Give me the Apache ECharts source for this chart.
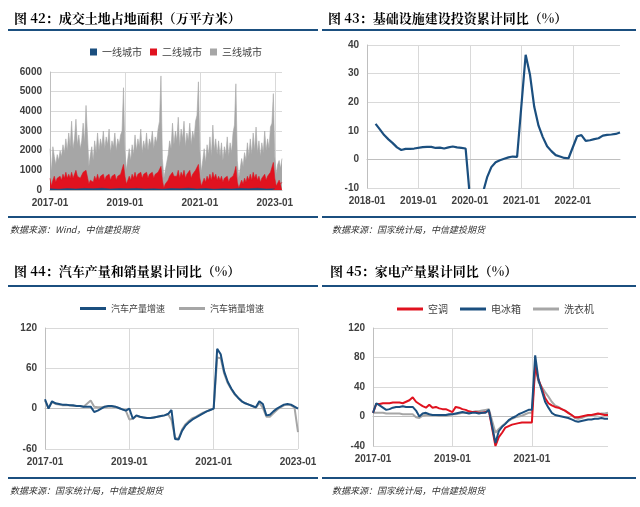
<!DOCTYPE html>
<html>
<head>
<meta charset="utf-8">
<script src="https://cdn.jsdelivr.net/npm/echarts@6/dist/echarts.min.js"></script>
<style>html,body{margin:0;background:#fff}#container{width:640px;height:507px}</style>
</head>
<body>
<div id="container"></div>
<script>
// ---- 图42 成交土地占地面积 (biweekly, 2017-01 .. 2023-03)
var land3 = [
  2100,900,2200,1700,1300,1800,1500,2000,1700,2300,1900,2600,2000,2900,2200,3500,2100,2600,3600,2300,2800,2100,2500,3400,2400,4300,
  2800,1200,1800,2200,1500,2500,1900,2900,2000,2600,2200,3000,2100,2700,2300,3100,1900,2500,2200,2900,2000,2600,2300,2800,3000,5200,
  2000,1000,1600,2100,1500,2300,1800,2800,2000,2600,2200,3100,1900,2500,2100,2900,2000,2600,2300,3000,2100,2700,2400,3100,3500,5800,
  1600,600,1000,1400,1800,2500,2100,3400,2300,3000,2500,3700,2200,3100,2600,3500,2200,2900,2500,3400,2300,3000,2600,3500,3800,5500,
  2000,900,1500,2100,1400,2300,1800,2700,1700,3300,2000,2600,1800,2500,1700,2400,1500,2200,1800,2700,1700,2400,1900,2900,3300,5400,
  1500,600,1100,1600,1200,1900,1500,2400,1700,2600,1800,2900,2000,3200,1900,2500,1700,2400,1900,3000,2000,2600,2100,3200,3400,4900,
  1700,800,1300,1500,1100,1600
];
var land2 = [
  600,200,500,700,400,600,500,700,500,800,600,900,600,800,600,900,600,800,1000,700,800,600,700,900,800,1000,
  900,300,500,600,400,700,500,800,500,700,600,800,500,700,600,800,500,700,600,800,500,700,600,800,900,1300,
  700,300,500,700,500,800,600,900,600,800,700,900,600,800,700,900,600,800,700,900,600,800,700,900,1000,1200,
  500,100,300,400,500,700,600,900,700,800,700,1000,600,900,700,1000,600,800,700,1000,600,800,700,1000,1100,1300,
  600,200,400,600,400,700,500,800,500,900,600,800,500,700,500,700,400,600,500,700,400,600,500,700,900,1200,
  400,100,300,500,300,600,400,700,500,800,500,900,600,800,500,700,400,600,500,800,500,700,600,900,1000,1400,
  600,200,300,500,300,400
];
// 一线城市, one value every 6 biweeks
var land1 = [60,40,70,50,80,60,90,50,70,60,80,50,60,40,70,60,90,50,70,40,60,50,80,60,90,50,60,40];

// ---- 图43 基础设施建设投资累计同比 (2018-01 .. 2022-12)
var infra = [
  null,null,12.4,10.5,8.5,7.0,5.7,4.2,3.3,3.7,3.7,3.8,
  null,4.3,4.4,4.4,4.0,4.1,3.8,4.2,4.5,4.2,4.0,3.8,
  null,-30.3,-19.7,-11.8,-6.3,-2.7,-1.0,-0.3,0.2,0.7,1.0,0.9,
  null,36.6,29.7,18.4,11.8,7.8,4.6,2.9,1.5,1.0,0.5,0.4,
  null,8.1,8.5,6.5,6.7,7.1,7.4,8.3,8.6,8.7,8.9,9.4
];

// ---- 图44 汽车产量和销量累计同比 (2017-01 .. 2023-01)
var carProd = [
  14,0,11,8,7,6,6,5,5,4,4,3,
  null,3,-5,-3,0,3,4,4,3,1,-1,-3,
  0,-15,-10,-12,-13,-14,-14,-13,-12,-11,-10,-8,
  -2,-45,-46,-33,-25,-20,-16,-13,-10,-7,-4,-2,
  0,89,81,55,40,30,22,16,11,8,6,4,
  2,11,7,-10,-9,-4,0,3,6,7,6,3,
  0
];
var carSales = [
  12,1,10,7,6,5,5,5,4,4,4,3,
  null,12,3,2,2,3,3,3,3,1,-1,-3,
  -16,-15,-11,-12,-13,-14,-14,-13,-12,-11,-10,-8,
  -17,-43,-45,-31,-23,-18,-14,-12,-9,-6,-4,-2,
  0,76,75,52,38,29,21,16,11,8,6,4,
  1,9,1,-12,-12,-7,-2,2,5,6,5,2,
  -35
];

// ---- 图45 家电产量累计同比 (2017-01 .. 2022-12)
var aircon = [
  5,17,17,18,18,18,19,19,19,18,20,22,
  26,20,17,14,12,16,12,13,11,10,10,8,
  6,13,12,10,9,7,6,6,5,5,6,8,
  null,-40,-28,-22,-15,-13,-11,-10,-9,-8,-8,-8,
  -8,68,50,38,25,18,15,13,12,10,8,5,
  2,-1,-1,0,1,2,2,3,4,3,2,2
];
var fridge = [
  5,18,15,12,9,10,12,13,13,14,13,13,
  13,8,0,4,5,3,2,2,2,2,2,3,
  3,4,5,6,5,4,5,5,4,5,5,9,
  null,-36,-20,-14,-10,-5,-2,0,3,5,7,9,
  9,83,50,35,20,12,5,2,1,0,-1,-2,
  -4,-6,-7,-6,-5,-4,-4,-3,-3,-2,-3,-3
];
var washer = [
  5,5,5,5,4,4,4,4,4,3,3,3,
  3,-1,-2,1,2,2,2,2,1,1,1,2,
  3,3,4,5,5,6,6,7,7,8,9,10,
  null,-22,-17,-13,-9,-6,-3,-1,0,1,3,5,
  5,67,47,40,33,27,20,15,13,10,8,5,
  2,-2,-3,-2,0,1,2,2,3,4,4,5
];

function months(startYear, n) {
  var out = [];
  for (var i = 0; i < n; i++) {
    var y = startYear + Math.floor(i / 12), m = i % 12 + 1;
    out.push(y + '-' + (m < 10 ? '0' : '') + m);
  }
  return out;
}
var landCats = [];
for (var i = 0; i < land3.length; i++) {
  var y = 2017 + Math.floor(i / 26), m = Math.floor((i % 26) / 26 * 12) + 1;
  landCats.push(y + '-' + (m < 10 ? '0' : '') + m);
}
var land1Full = landCats.map(function (c, i) { return i % 6 === 0 ? land1[i / 6] : null; });

var BLUE = '#1b4f7f', RED = '#e0121f', GRAY = '#a6a6a6';
var FONT = 'Liberation Sans';
var lab = { color: '#404040', fontSize: 10, fontWeight: 'bold', fontFamily: FONT };
var grid = { show: true, borderWidth: 0 };
var split = { show: true, lineStyle: { color: '#d9d9d9', width: 1 } };

function xCat(gi, cats, step) {
  var f = function (idx) { return idx % step === 0; };
  return {
    type: 'category', gridIndex: gi, data: cats, boundaryGap: false,
    axisLine: { lineStyle: { color: '#bfbfbf' } }, axisTick: { show: false },
    axisLabel: Object.assign({ interval: f, margin: 8 }, lab),
    splitLine: { show: true, interval: f, lineStyle: { color: '#d9d9d9' } }
  };
}
function yVal(gi, min, max, iv) {
  return {
    type: 'value', gridIndex: gi, min: min, max: max, interval: iv,
    axisLine: { show: true, lineStyle: { color: '#bfbfbf' } }, axisTick: { show: false },
    axisLabel: Object.assign({ margin: 8, formatter: function (v) { return String(v); } }, lab),
    splitLine: split
  };
}
function line(name, gi, data, color, w) {
  return { name: name, type: 'line', xAxisIndex: gi, yAxisIndex: gi, data: data,
    showSymbol: false, connectNulls: true, lineStyle: { color: color, width: w || 2 },
    itemStyle: { color: color } };
}
function area(name, data, color, z) {
  return { name: name, type: 'line', xAxisIndex: 0, yAxisIndex: 0, data: data, z: z,
    showSymbol: false, connectNulls: true, lineStyle: { width: 0.6, color: color },
    itemStyle: { color: color }, areaStyle: { color: color, opacity: 1 } };
}

var titleStyle = { fontSize: 13, fontWeight: 'bold', fontFamily: 'Noto Serif CJK SC, Noto Sans CJK SC', fill: '#000' };
var srcStyle = { fontSize: 9, fontStyle: 'italic', fontFamily: 'Noto Sans CJK SC', fill: '#333' };
function txt(x, y, t, st) { return { type: 'text', left: x, top: y, style: Object.assign({ text: t }, st) }; }
function rule(x1, x2, y) { return { type: 'line', shape: { x1: x1, y1: y, x2: x2, y2: y }, style: { stroke: BLUE, lineWidth: 2 } }; }

var dom = document.getElementById('container');
var myChart = echarts.init(dom);

option = {
  backgroundColor: '#fff',
  animation: false,
  graphic: [
    txt(14, 12, '图 42：成交土地占地面积（万平方米）', titleStyle),
    txt(328, 12, '图 43：基础设施建设投资累计同比（%）', titleStyle),
    txt(14, 265, '图 44：汽车产量和销量累计同比（%）', titleStyle),
    txt(330, 265, '图 45：家电产量累计同比（%）', titleStyle),
    rule(8, 318, 30), rule(322, 636, 30), rule(8, 318, 217), rule(322, 636, 217),
    rule(8, 318, 286), rule(322, 636, 286), rule(8, 318, 478), rule(322, 636, 478),
    txt(10, 225, '数据来源：Wind，中信建投期货', srcStyle),
    txt(332, 225, '数据来源：国家统计局，中信建投期货', srcStyle),
    txt(10, 486, '数据来源：国家统计局，中信建投期货', srcStyle),
    txt(332, 486, '数据来源：国家统计局，中信建投期货', srcStyle)
  ],
  legend: [
    { data: ['一线城市', '二线城市', '三线城市'], left: 85, top: 42, itemWidth: 7, itemHeight: 7, itemGap: 8,
      icon: 'rect', textStyle: { fontSize: 10, color: '#404040', fontFamily: 'Noto Sans CJK SC' } },
    { data: ['汽车产量增速', '汽车销量增速'], left: 75, top: 299, itemWidth: 26, itemHeight: 3, itemGap: 14,
      icon: 'rect', textStyle: { fontSize: 9, color: '#404040', fontFamily: 'Noto Sans CJK SC' } },
    { data: ['空调', '电冰箱', '洗衣机'], left: 392, top: 299, itemWidth: 26, itemHeight: 3, itemGap: 12,
      icon: 'rect', textStyle: { fontSize: 10, color: '#404040', fontFamily: 'Noto Sans CJK SC' } }
  ],
  grid: [
    Object.assign({ left: 50, top: 72, width: 232, height: 118 }, grid),
    Object.assign({ left: 367, top: 45, width: 253, height: 143 }, grid),
    Object.assign({ left: 45, top: 328, width: 253, height: 121 }, grid),
    Object.assign({ left: 373, top: 328, width: 235, height: 118 }, grid)
  ],
  xAxis: [
    xCat(0, landCats, 52),
    xCat(1, months(2018, 60), 12),
    xCat(2, months(2017, 73), 24),
    xCat(3, months(2017, 72), 24)
  ],
  yAxis: [
    yVal(0, 0, 6000, 1000),
    yVal(1, -10, 40, 10),
    yVal(2, -60, 120, 60),
    yVal(3, -40, 120, 40)
  ],
  series: [
    area('三线城市', land3, GRAY, 2),
    area('二线城市', land2, RED, 3),
    area('一线城市', land1Full, BLUE, 4),
    line('基建', 1, infra, BLUE, 2.2),
    line('汽车销量增速', 2, carSales, GRAY, 2),
    line('汽车产量增速', 2, carProd, BLUE, 2),
    line('洗衣机', 3, washer, GRAY, 2),
    line('空调', 3, aircon, RED, 2),
    line('电冰箱', 3, fridge, BLUE, 2)
  ]
};
myChart.setOption(option);

window.addEventListener('resize', function () {
  myChart.resize();
});
</script>
</body>
</html>
